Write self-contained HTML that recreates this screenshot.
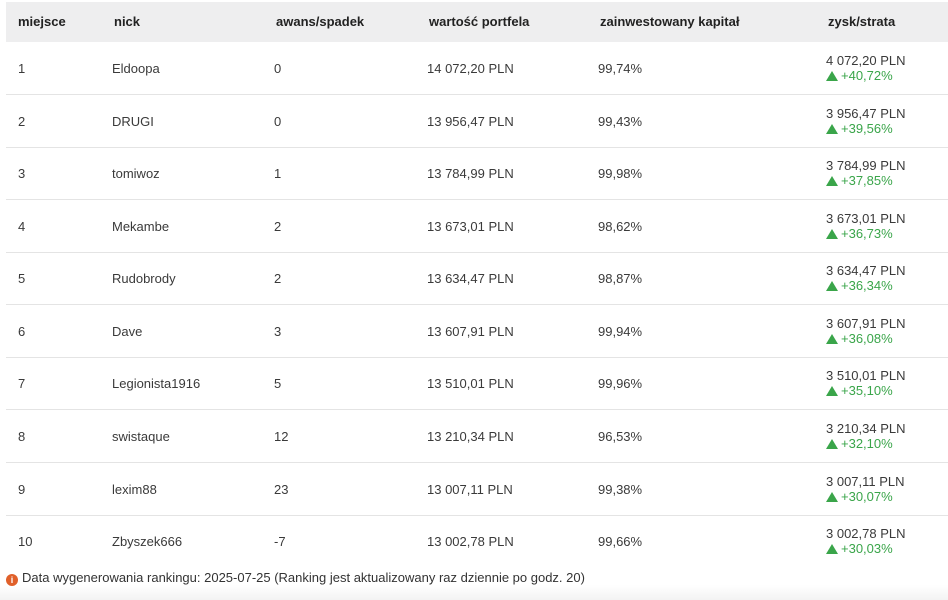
<!DOCTYPE html>
<html><head><meta charset="utf-8"><style>
body{margin:0;width:948px;height:600px;background:#fff;font-family:"Liberation Sans",sans-serif;color:#3a3a3a;position:relative;overflow:hidden}
.hdr{position:absolute;left:6px;top:2px;width:942px;height:40px;background:#eeeeef}
.h{position:absolute;top:12px;font-size:13px;font-weight:bold;color:#222}
.row{position:absolute;left:6px;width:942px;height:52px;border-bottom:1px solid #e4e4e4}
.c{position:absolute;top:19px;font-size:13px;color:#3a3a3a}
.z{position:absolute;left:820px;top:11px;font-size:13px;line-height:15px}
.g{color:#3aa54a}
.t{display:inline-block;width:0;height:0;border-left:6px solid transparent;border-right:6px solid transparent;border-bottom:10px solid #3aa54a;margin-right:3px;vertical-align:-1px}
.foot{position:absolute;left:6px;top:570px;font-size:13px;color:#333}
.i{display:inline-block;width:12px;height:12px;border-radius:50%;background:#e0602a;color:#fff;font-size:9px;font-weight:bold;text-align:center;line-height:12px;vertical-align:-1px;margin-right:4px}
.fade{position:absolute;left:0;top:585px;width:948px;height:15px;background:linear-gradient(#fff,#f3f3f3)}
</style></head><body>
<div class="hdr">
<div class="h" style="left:12px">miejsce</div>
<div class="h" style="left:108px">nick</div>
<div class="h" style="left:270px">awans/spadek</div>
<div class="h" style="left:423px">wartość portfela</div>
<div class="h" style="left:594px">zainwestowany kapitał</div>
<div class="h" style="left:822px">zysk/strata</div>
</div>
<div class="row" style="top:42px"><div class="c" style="left:12px">1</div><div class="c" style="left:106px">Eldoopa</div><div class="c" style="left:268px">0</div><div class="c" style="left:421px">14 072,20 PLN</div><div class="c" style="left:592px">99,74%</div><div class="z">4 072,20 PLN<br><span class="g"><span class="t"></span>+40,72%</span></div></div>
<div class="row" style="top:95px"><div class="c" style="left:12px">2</div><div class="c" style="left:106px">DRUGI</div><div class="c" style="left:268px">0</div><div class="c" style="left:421px">13 956,47 PLN</div><div class="c" style="left:592px">99,43%</div><div class="z">3 956,47 PLN<br><span class="g"><span class="t"></span>+39,56%</span></div></div>
<div class="row" style="top:147px"><div class="c" style="left:12px">3</div><div class="c" style="left:106px">tomiwoz</div><div class="c" style="left:268px">1</div><div class="c" style="left:421px">13 784,99 PLN</div><div class="c" style="left:592px">99,98%</div><div class="z">3 784,99 PLN<br><span class="g"><span class="t"></span>+37,85%</span></div></div>
<div class="row" style="top:200px"><div class="c" style="left:12px">4</div><div class="c" style="left:106px">Mekambe</div><div class="c" style="left:268px">2</div><div class="c" style="left:421px">13 673,01 PLN</div><div class="c" style="left:592px">98,62%</div><div class="z">3 673,01 PLN<br><span class="g"><span class="t"></span>+36,73%</span></div></div>
<div class="row" style="top:252px"><div class="c" style="left:12px">5</div><div class="c" style="left:106px">Rudobrody</div><div class="c" style="left:268px">2</div><div class="c" style="left:421px">13 634,47 PLN</div><div class="c" style="left:592px">98,87%</div><div class="z">3 634,47 PLN<br><span class="g"><span class="t"></span>+36,34%</span></div></div>
<div class="row" style="top:305px"><div class="c" style="left:12px">6</div><div class="c" style="left:106px">Dave</div><div class="c" style="left:268px">3</div><div class="c" style="left:421px">13 607,91 PLN</div><div class="c" style="left:592px">99,94%</div><div class="z">3 607,91 PLN<br><span class="g"><span class="t"></span>+36,08%</span></div></div>
<div class="row" style="top:357px"><div class="c" style="left:12px">7</div><div class="c" style="left:106px">Legionista1916</div><div class="c" style="left:268px">5</div><div class="c" style="left:421px">13 510,01 PLN</div><div class="c" style="left:592px">99,96%</div><div class="z">3 510,01 PLN<br><span class="g"><span class="t"></span>+35,10%</span></div></div>
<div class="row" style="top:410px"><div class="c" style="left:12px">8</div><div class="c" style="left:106px">swistaque</div><div class="c" style="left:268px">12</div><div class="c" style="left:421px">13 210,34 PLN</div><div class="c" style="left:592px">96,53%</div><div class="z">3 210,34 PLN<br><span class="g"><span class="t"></span>+32,10%</span></div></div>
<div class="row" style="top:463px"><div class="c" style="left:12px">9</div><div class="c" style="left:106px">lexim88</div><div class="c" style="left:268px">23</div><div class="c" style="left:421px">13 007,11 PLN</div><div class="c" style="left:592px">99,38%</div><div class="z">3 007,11 PLN<br><span class="g"><span class="t"></span>+30,07%</span></div></div>
<div class="row" style="top:515px;border-bottom:none"><div class="c" style="left:12px">10</div><div class="c" style="left:106px">Zbyszek666</div><div class="c" style="left:268px">-7</div><div class="c" style="left:421px">13 002,78 PLN</div><div class="c" style="left:592px">99,66%</div><div class="z">3 002,78 PLN<br><span class="g"><span class="t"></span>+30,03%</span></div></div>
<div class="fade"></div>
<div class="foot"><span class="i">i</span>Data wygenerowania rankingu: 2025-07-25 (Ranking jest aktualizowany raz dziennie po godz. 20)</div>
</body></html>
